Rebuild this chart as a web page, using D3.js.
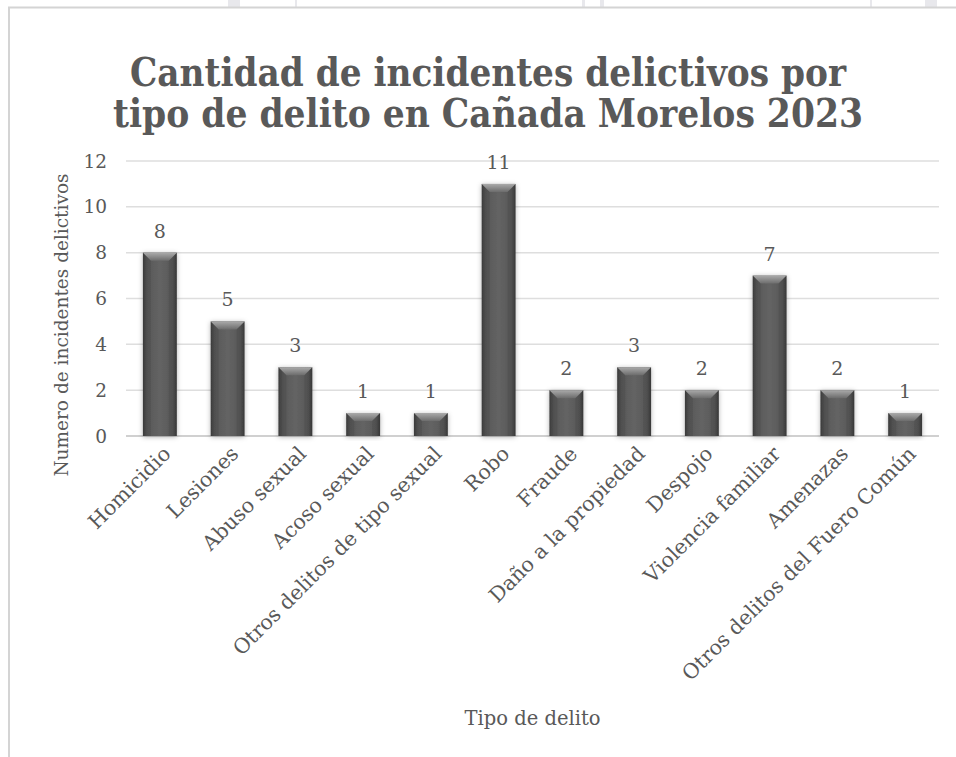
<!DOCTYPE html>
<html>
<head>
<meta charset="utf-8">
<script src="https://cdn.jsdelivr.net/npm/d3@7"></script>
<style>
  html, body { margin: 0; padding: 0; background: #fff; }
  svg { display: block; }
  text { font-family: "DejaVu Serif", "Liberation Serif", serif; fill: #595959; }
</style>
</head>
<body>
<div id="chart"></div>
<script>
const width = 956
const height = 757

const categories = [
  "Homicidio", "Lesiones", "Abuso sexual", "Acoso sexual",
  "Otros delitos de tipo sexual", "Robo", "Fraude", "Daño a la propiedad",
  "Despojo", "Violencia familiar", "Amenazas", "Otros delitos del Fuero Común"
]
const values = [8, 5, 3, 1, 1, 11, 2, 3, 2, 7, 2, 1]
const yTicks = [0, 2, 4, 6, 8, 10, 12]
const titleLines = ["Cantidad de incidentes delictivos por", "tipo de delito en Cañada Morelos 2023"]

const plot = {left: 126, right: 939, top: 161, bottom: 436}

const svg = d3.select("#chart").append("svg")
  .attr("width", width)
  .attr("height", height)

const defs = svg.append("defs")

// bar body: darker at edges
const body = defs.append("linearGradient").attr("id", "body")
  .attr("x1", "0").attr("x2", "1").attr("y1", "0").attr("y2", "0")
body.append("stop").attr("offset", "0").attr("stop-color", "#404040")
body.append("stop").attr("offset", "0.12").attr("stop-color", "#575757")
body.append("stop").attr("offset", "0.5").attr("stop-color", "#646464")
body.append("stop").attr("offset", "0.88").attr("stop-color", "#575757")
body.append("stop").attr("offset", "1").attr("stop-color", "#3c3c3c")

const bevel = defs.append("linearGradient").attr("id", "bevel")
  .attr("x1", "0").attr("x2", "0").attr("y1", "0").attr("y2", "1")
bevel.append("stop").attr("offset", "0").attr("stop-color", "#aaaaaa")
bevel.append("stop").attr("offset", "1").attr("stop-color", "#6c6c6c")

const shadow = defs.append("filter").attr("id", "shadow")
  .attr("x", "-30%").attr("y", "-10%").attr("width", "160%").attr("height", "130%")
shadow.append("feDropShadow")
  .attr("dx", 0).attr("dy", 1).attr("stdDeviation", 2.5)
  .attr("flood-color", "#000").attr("flood-opacity", 0.3)

/* page bits above the chart frame */
const pageBits = [[228, 12], [295, 2], [582, 3], [600, 4], [870, 2], [925, 12]]
svg.selectAll("rect.page").data(pageBits).enter().append("rect")
  .attr("x", d => d[0]).attr("y", 0)
  .attr("width", d => d[1]).attr("height", 7)
  .attr("fill", "#e8e8ec")

/* chart frame */
svg.append("path")
  .attr("d", `M9,${height} V7.5 H${width}`)
  .attr("fill", "none")
  .attr("stroke", "#d4d4d4")
  .attr("stroke-width", 2)

/* title */
const titleWidths = [716, 750]
svg.selectAll("text.title").data(titleLines).enter().append("text")
  .attr("class", "title")
  .attr("x", 488)
  .attr("y", (d, i) => 86 + i * 41)
  .attr("text-anchor", "middle")
  .attr("textLength", (d, i) => titleWidths[i])
  .attr("lengthAdjust", "spacingAndGlyphs")
  .style("font-family", "'DejaVu Serif Condensed', 'DejaVu Serif', serif")
  .style("font-weight", "bold")
  .style("font-size", "40px")
  .text(d => d)

const x = d3.scaleBand()
  .domain(categories)
  .range([plot.left, plot.right])
  .paddingInner(0.5)
  .paddingOuter(0.25)

const y = d3.scaleLinear()
  .domain([0, 12])
  .range([plot.bottom, plot.top])

/* gridlines */
svg.append("g")
  .selectAll("line").data(yTicks).enter().append("line")
  .attr("x1", plot.left).attr("x2", plot.right)
  .attr("y1", d => y(d)).attr("y2", d => y(d))
  .attr("stroke", d => d === 0 ? "#d0d0d0" : "#dedede")
  .attr("stroke-width", d => d === 0 ? 2 : 1.5)

/* y tick labels */
svg.append("g")
  .selectAll("text").data(yTicks).enter().append("text")
  .attr("x", plot.left - 19)
  .attr("y", d => y(d))
  .attr("dy", "0.36em")
  .attr("text-anchor", "end")
  .style("font-size", "18.5px")
  .text(d => d)

/* bars */
const data = categories.map((c, i) => ({cat: c, value: values[i]}))
const bw = x.bandwidth()
const bars = svg.append("g").selectAll("g").data(data).enter().append("g")
  .attr("filter", "url(#shadow)")

bars.append("rect")
  .attr("x", d => x(d.cat))
  .attr("y", d => y(d.value))
  .attr("width", bw)
  .attr("height", d => y(0) - y(d.value))
  .attr("fill", "url(#body)")

bars.append("path")
  .attr("d", d => {
    const x0 = x(d.cat), x1 = x0 + bw, t = y(d.value), b = 8
    return `M${x0},${t} H${x1} L${x1 - b},${t + b} H${x0 + b} Z`
  })
  .attr("fill", "url(#bevel)")

bars.append("path")
  .attr("d", d => {
    const x0 = x(d.cat), x1 = x0 + bw, t = y(d.value), b = 8
    return `M${x0},${t} L${x0 + b},${t + b} V${y(0)} H${x0} Z M${x1},${t} L${x1 - b},${t + b} V${y(0)} H${x1} Z`
  })
  .attr("fill", "#000")
  .attr("opacity", 0.08)

/* value labels */
svg.append("g")
  .selectAll("text").data(data).enter().append("text")
  .attr("x", d => x(d.cat) + bw / 2)
  .attr("y", d => y(d.value) - 15)
  .attr("text-anchor", "middle")
  .style("font-size", "19px")
  .text(d => d.value)

/* category labels */
svg.append("g")
  .selectAll("text").data(categories).enter().append("text")
  .attr("transform", d => `translate(${x(d) + bw / 2 + 7},${plot.bottom + 14}) rotate(-45)`)
  .attr("text-anchor", "end")
  .attr("dy", "0.35em")
  .style("font-size", "20.5px")
  .text(d => d)

/* axis titles */
svg.append("text")
  .attr("transform", `translate(68,325) rotate(-90)`)
  .attr("text-anchor", "middle")
  .style("font-size", "18.5px")
  .text("Numero de incidentes delictivos")

svg.append("text")
  .attr("x", (plot.left + plot.right) / 2)
  .attr("y", 725)
  .attr("text-anchor", "middle")
  .style("font-size", "19.5px")
  .text("Tipo de delito")
</script>
</body>
</html>
